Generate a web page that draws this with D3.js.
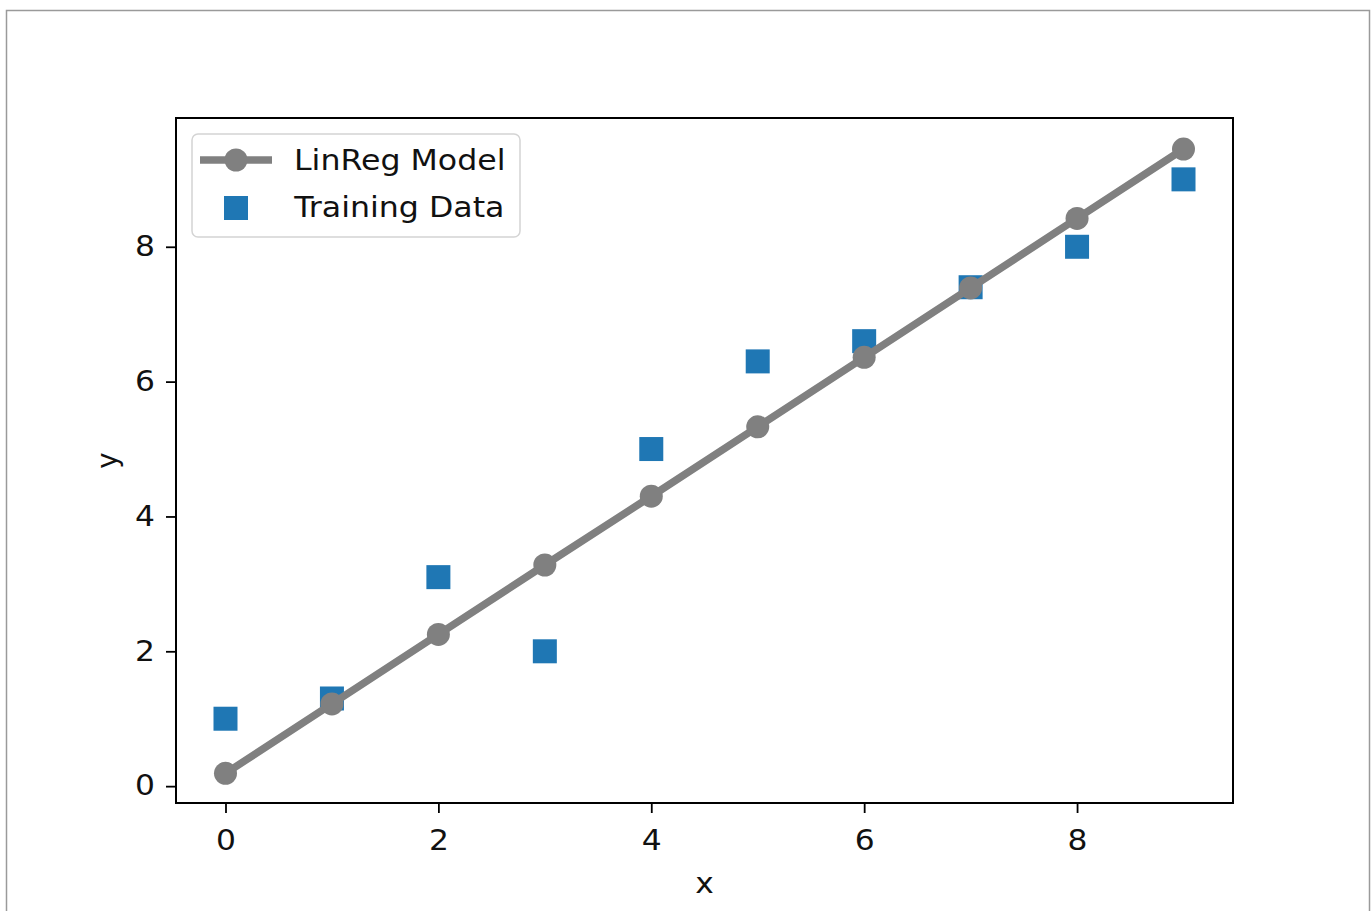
<!DOCTYPE html>
<html><head><meta charset="utf-8">
<script src="https://cdn.jsdelivr.net/npm/d3@7"></script>
<style>html,body{margin:0;padding:0;background:#fff;}svg{display:block;}
.st{transform-box:fill-box;transform-origin:center;transform:scaleX(1.14);}
.stl{transform-box:fill-box;transform-origin:left center;transform:scaleX(1.15);}
.str{transform-box:fill-box;transform-origin:right center;transform:scaleX(1.14);}
</style>
</head><body>
<svg id="c" width="1372" height="911"></svg>
<script>
const xValues = [0,1,2,3,4,5,6,7,8,9];
const trainY = [1.0,1.3,3.1,2.0,5.0,6.3,6.6,7.4,8.0,9.0];
const modelY = [0.19,1.22,2.25,3.28,4.30,5.33,6.36,7.39,8.42,9.45];
const xTicks = [0,2,4,6,8];
const yTicks = [0,2,4,6,8];
const seriesNames = ["LinReg Model","Training Data"];

const svg = d3.select("#c");
const font = "DejaVu Sans, sans-serif";
const fs = 27.5;
svg.append("rect").attr("x",6.5).attr("y",10.5).attr("width",1363).attr("height",920)
  .attr("fill","none").attr("stroke","#9a9a9a").attr("stroke-width",1.5);

const L=176,R=1233,T=118,B=803;
const x = d3.scaleLinear().domain([-0.465,9.465]).range([L,R]);
const y = d3.scaleLinear().domain([-0.25,9.91]).range([B,T]);

const gx = svg.append("g").attr("transform",`translate(0,${B})`)
  .call(d3.axisBottom(x).tickValues(xTicks).tickSize(10).tickPadding(10).tickFormat(d3.format("d")));
const gy = svg.append("g").attr("transform",`translate(${L},0)`)
  .call(d3.axisLeft(y).tickValues(yTicks).tickSize(10).tickPadding(11).tickFormat(d3.format("d")));
[gx,gy].forEach(g=>{
  g.select(".domain").remove();
  g.selectAll(".tick line").attr("stroke","#000").attr("stroke-width",1.8);
  g.selectAll(".tick text").attr("font-family",font).attr("font-size",fs).attr("fill","#111");
});
gx.selectAll(".tick text").attr("y",47).attr("dy",null).attr("class","st");
gy.selectAll(".tick text").attr("class","str");

const plot = svg.append("g").attr("clip-path","url(#pc)");
svg.append("clipPath").attr("id","pc").append("rect").attr("x",L).attr("y",T).attr("width",R-L).attr("height",B-T);
const sq=24;
plot.selectAll("rect.sq").data(xValues).join("rect").attr("class","sq")
  .attr("x",d=>x(d)-sq/2).attr("y",(d,i)=>y(trainY[i])-sq/2)
  .attr("width",sq).attr("height",sq).attr("fill","#1f77b4");
const line = d3.line().x((d,i)=>x(xValues[i])).y(d=>y(d));
plot.append("path").datum(modelY).attr("d",line).attr("fill","none")
  .attr("stroke","#808080").attr("stroke-width",7.5);
plot.selectAll("circle").data(modelY).join("circle")
  .attr("cx",(d,i)=>x(xValues[i])).attr("cy",d=>y(d)).attr("r",11.5).attr("fill","#808080");

svg.append("rect").attr("x",L).attr("y",T).attr("width",R-L).attr("height",B-T)
  .attr("fill","none").attr("stroke","#000").attr("stroke-width",2);

svg.append("text").attr("x",(L+R)/2).attr("y",893).attr("text-anchor","middle").attr("class","st")
  .attr("font-family",font).attr("font-size",fs).attr("fill","#111").text("x");
svg.append("text").attr("transform",`translate(117,${(T+B)/2}) rotate(-90)`).attr("text-anchor","middle")
  .attr("font-family",font).attr("font-size",fs).attr("fill","#111").text("y");

const lg = svg.append("g");
lg.append("rect").attr("x",192).attr("y",134).attr("width",328).attr("height",103).attr("rx",6)
  .attr("fill","#fff").attr("fill-opacity",0.8).attr("stroke","#d4d4d4").attr("stroke-width",1.5);
lg.append("line").attr("x1",200).attr("x2",272).attr("y1",160).attr("y2",160)
  .attr("stroke","#808080").attr("stroke-width",7.5);
lg.append("circle").attr("cx",236).attr("cy",160).attr("r",11.5).attr("fill","#808080");
lg.append("rect").attr("x",224).attr("y",196).attr("width",sq).attr("height",sq).attr("fill","#1f77b4");
lg.selectAll("text.lt").data(seriesNames).join("text").attr("class","stl")
  .attr("x",294).attr("y",(d,i)=>170+i*47).attr("font-family",font).attr("font-size",fs).attr("fill","#111").text(d=>d);
</script>
</body></html>
